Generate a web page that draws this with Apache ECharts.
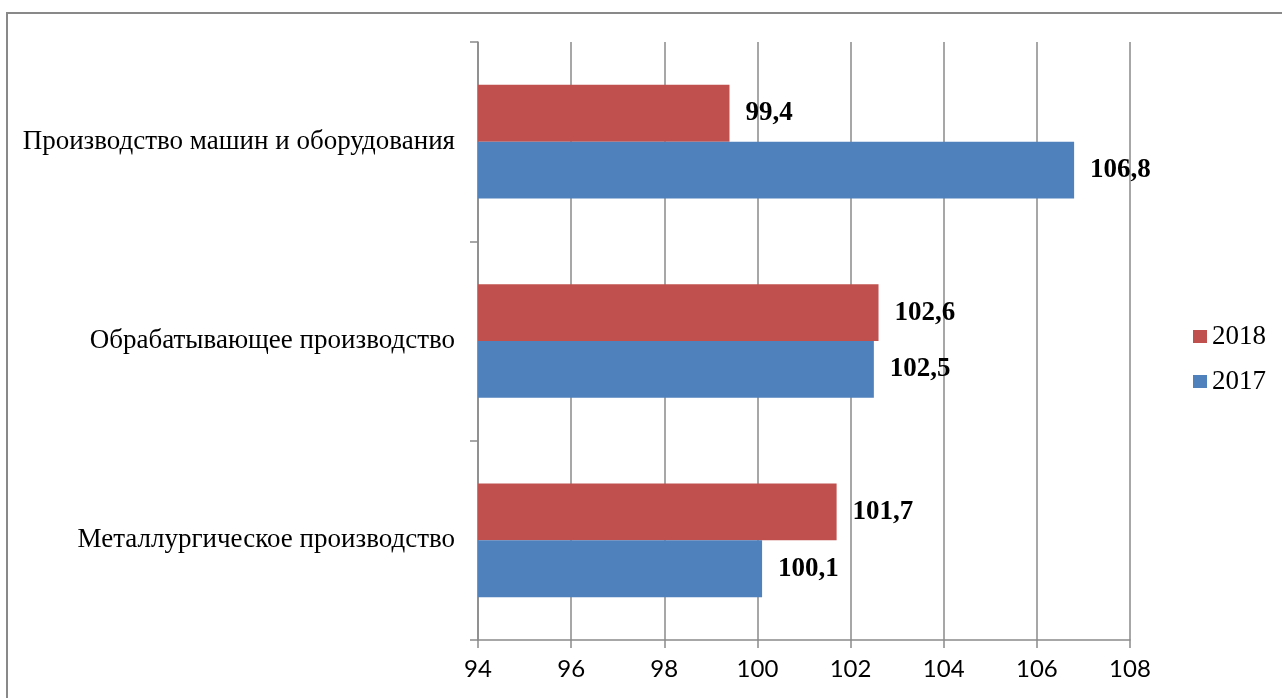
<!DOCTYPE html>
<html>
<head>
<meta charset="utf-8">
<script src="https://cdn.jsdelivr.net/npm/echarts@6/dist/echarts.min.js"></script>
<style>
  html, body { margin: 0; padding: 0; background: #fff; }
  #chart { width: 1282px; height: 698px; }
</style>
</head>
<body>
<div id="chart"></div>
<script>
// Industrial production indices by branch, %
const categories = [
  'Металлургическое производство',
  'Обрабатывающее производство',
  'Производство машин и оборудования'
];
const values2017 = [100.1, 102.5, 106.8];
const values2018 = [101.7, 102.6, 99.4];
const legendOrder = ['2018', '2017'];

const serif = '"Liberation Serif", "Times New Roman", serif';
const gridGray = '#8a8a8a';

const fmt = p => p.value.toFixed(1).replace('.', ',');

const barLabel = {
  show: true,
  position: 'right',
  distance: 16,
  formatter: fmt,
  fontFamily: serif,
  fontWeight: 'bold',
  fontSize: 27,
  color: '#000'
};

const chart = echarts.init(document.getElementById('chart'), null, { renderer: 'canvas' });
chart.setOption({
  backgroundColor: '#fff',
  animation: false,
  graphic: [{
    type: 'rect',
    shape: { x: 7, y: 13, width: 1300, height: 720 },
    style: { fill: 'none', stroke: '#898989', lineWidth: 2 },
    silent: true
  }],
  grid: { left: 478, right: 152, top: 42, bottom: 58, containLabel: false },
  legend: {
    data: legendOrder,
    orient: 'vertical',
    left: 1193,
    top: 323,
    padding: 0,
    itemWidth: 14,
    itemHeight: 13,
    itemGap: 18,
    icon: 'rect',
    textStyle: { fontFamily: serif, fontSize: 27, color: '#000', lineHeight: 27 }
  },
  xAxis: {
    type: 'value',
    min: 94,
    max: 108,
    interval: 2,
    axisLine: { show: true, lineStyle: { color: gridGray, width: 1.5 } },
    axisTick: { show: true, length: 8, lineStyle: { color: gridGray, width: 1.5 } },
    splitLine: { show: true, lineStyle: { color: gridGray, width: 1.5 } },
    axisLabel: { fontFamily: 'Lato, "Open Sans", sans-serif', fontSize: 24, color: '#000', margin: 17 }
  },
  yAxis: {
    type: 'category',
    data: categories,
    axisLine: { show: true, lineStyle: { color: gridGray, width: 1.5 } },
    axisTick: { show: true, length: 8, alignWithLabel: false, lineStyle: { color: gridGray, width: 1.5 } },
    axisLabel: { fontFamily: serif, fontSize: 27, color: '#000', margin: 23 }
  },
  series: [
    {
      name: '2018',
      type: 'bar',
      data: values2018,
      itemStyle: { color: '#C0504D' },
      barGap: '0%',
      barCategoryGap: '43%',
      label: barLabel
    },
    {
      name: '2017',
      type: 'bar',
      data: values2017,
      itemStyle: { color: '#4F81BD' },
      barGap: '0%',
      barCategoryGap: '43%',
      label: barLabel
    }
  ]
});
</script>
</body>
</html>
